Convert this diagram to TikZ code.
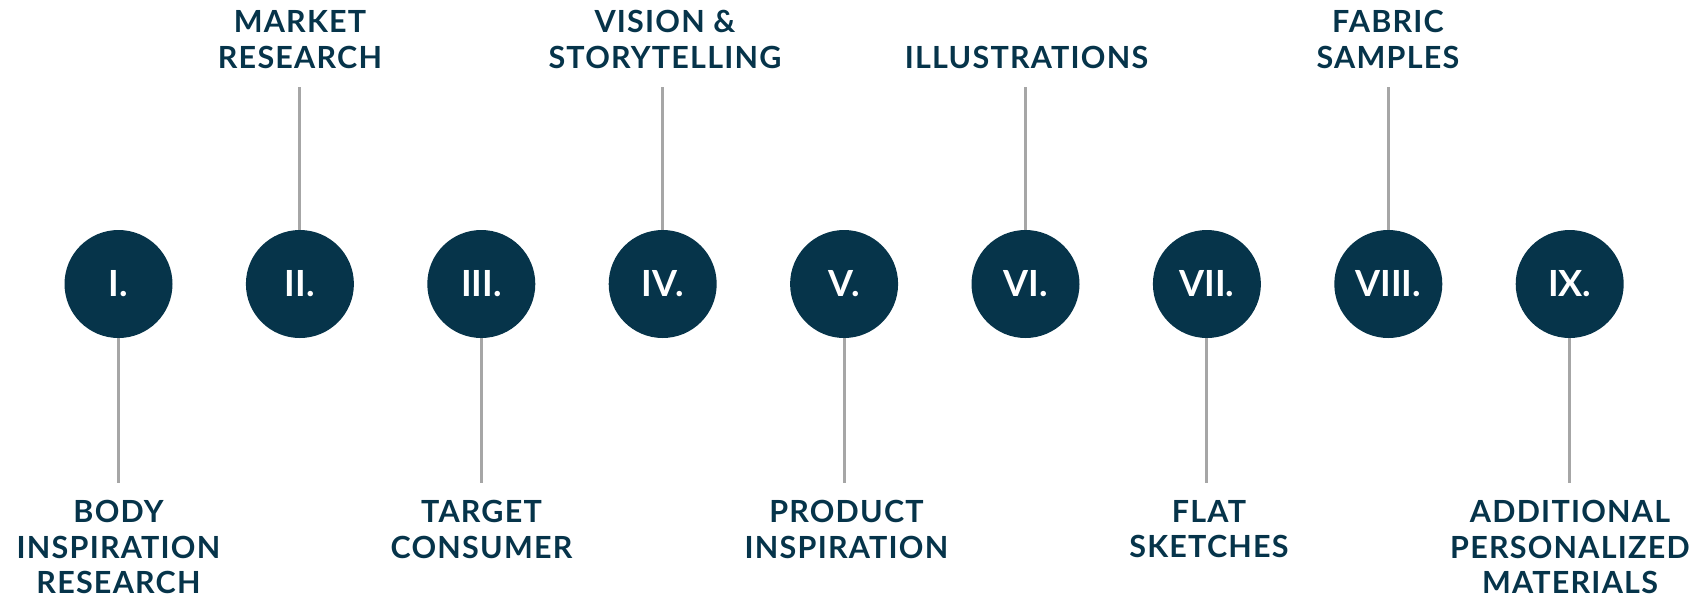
\documentclass[tikz,border=0pt]{standalone}
\usepackage{fontspec}
\setmainfont{Lato}[UprightFont=* Bold]
\newfontfamily\lblfont{Lato}[UprightFont=* Bold,LetterSpace=4]
\definecolor{navy}{HTML}{06344A}
\definecolor{linegray}{HTML}{A6A6A6}
\tikzset{
  stage/.style={circle,fill=navy,minimum size=108pt,inner sep=0pt,text=white,font=\fontsize{36}{40}\selectfont},
  lbl/.style={text=navy,align=center,inner sep=0pt,font=\lblfont\fontsize{30.5}{35.7}\selectfont},
  conn/.style={draw=linegray,line width=3pt},
}
\begin{document}
\begin{tikzpicture}[x=1pt,y=-1pt]
\useasboundingbox (0,0) rectangle (1703,606);
\foreach \i/\r in {1/I.,2/II.,3/III.,4/IV.,5/V.,6/VI.,7/VII.,8/VIII.,9/IX.}{
  \node[stage] (c\i) at ({118.5+181.4*(\i-1)},284) {\raisebox{-2pt}{\r}};
}
% top labels (baseline of last line at y=68.5)
\node[lbl,anchor=south] (l2) at (300,68.5) {MARKET\\RESEARCH};
\node[lbl,anchor=south] (l4) at (665,68.5) {VISION \&\\STORYTELLING};
\node[lbl,anchor=south] (l6) at (1026.5,68.5) {ILLUSTRATIONS};
\node[lbl,anchor=south] (l8) at (1388,68.5) {FABRIC\\SAMPLES};
% bottom labels (cap top of first line at y=500)
\node[lbl,anchor=north] (l1) at (118.5,500) {BODY\\INSPIRATION\\RESEARCH};
\node[lbl,anchor=north] (l3) at (481.5,500) {TARGET\\CONSUMER};
\node[lbl,anchor=north] (l5) at (846.5,500) {PRODUCT\\INSPIRATION};
\node[lbl,anchor=north] (l7) at (1209,500) {FLAT\\SKETCHES};
\node[lbl,anchor=north] (l9) at (1570,500) {ADDITIONAL\\PERSONALIZED\\MATERIALS};
% connectors
\foreach \i in {2,4,6,8}{
  \draw[conn,shorten >=18.5pt] (c\i.north) -- (c\i.north |- l\i.south);
}
\foreach \i in {1,3,5,7,9}{
  \draw[conn,shorten >=17.5pt] (c\i.south) -- (c\i.south |- l\i.north);
}
\end{tikzpicture}
\end{document}
